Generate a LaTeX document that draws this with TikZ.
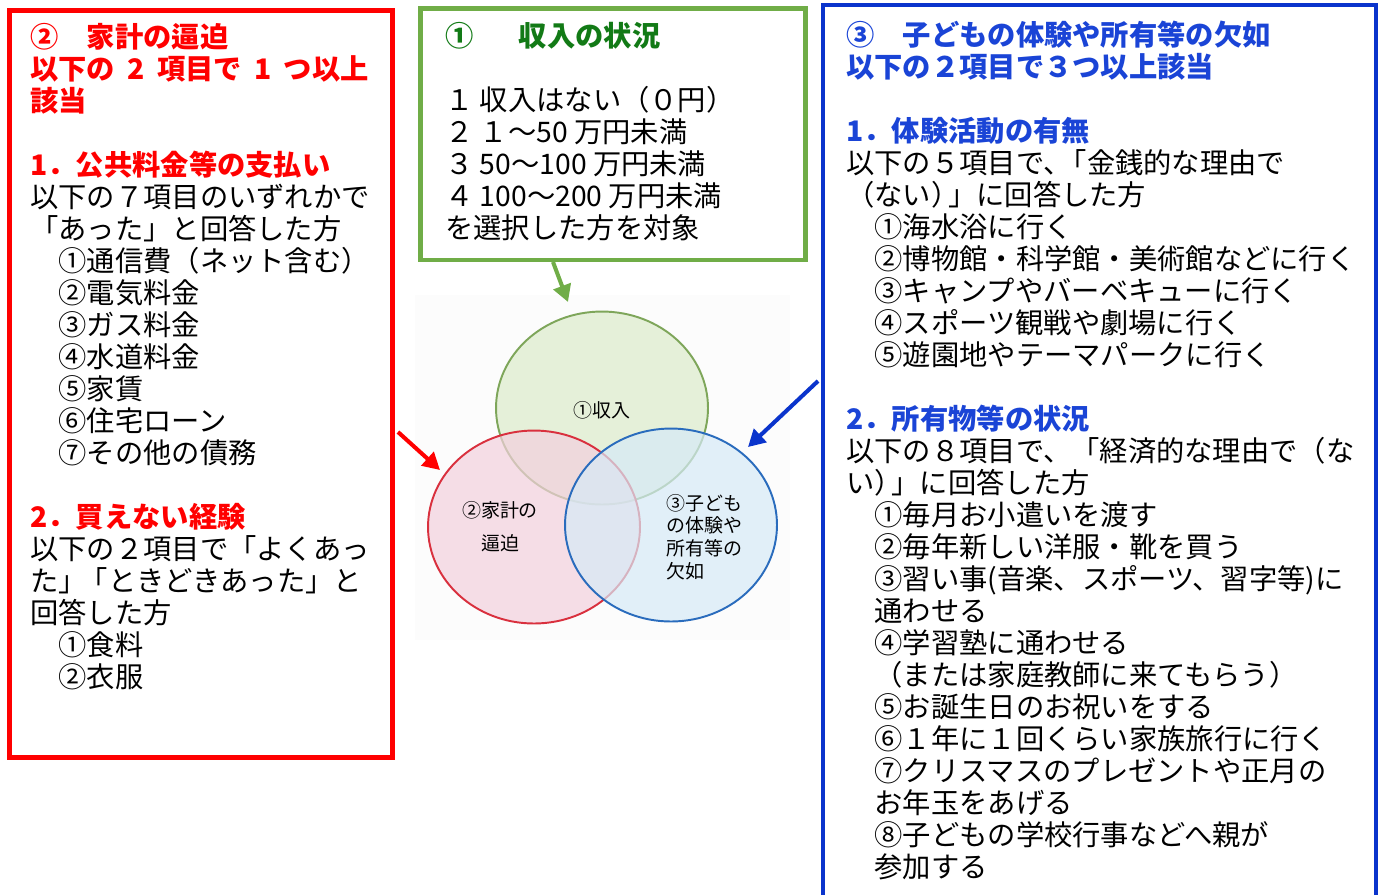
\documentclass[tikz,border=0pt]{standalone}
\usepackage{fontspec}
\usetikzlibrary{arrows.meta,shapes.geometric}
\newfontfamily\jpfont{Noto Sans CJK JP}

\definecolor{boxred}{HTML}{FF0000}
\definecolor{boxgreen}{HTML}{70AD47}
\definecolor{boxblue}{HTML}{0A34CC}
\definecolor{titlegreen}{HTML}{127A16}
\definecolor{titleblue}{HTML}{1A44D6}
\definecolor{venngreen}{HTML}{7EA65A}
\definecolor{vennred}{HTML}{D9303E}
\definecolor{vennblue}{HTML}{2A6CBD}
\definecolor{fillgreen}{HTML}{DCEBCB}
\definecolor{fillred}{HTML}{F3D0DE}
\definecolor{fillblue}{HTML}{D6EAF7}

\tikzset{
  listtext/.style={anchor=north west, inner sep=0pt, align=left,
    font=\jpfont\fontsize{16.1pt}{18.2pt}\selectfont},
  venntext/.style={inner sep=0pt, font=\jpfont\fontsize{10.8pt}{13pt}\selectfont},
  vennset/.style={ellipse, minimum width=4.24cm, minimum height=3.86cm,
    line width=1.1pt, fill opacity=0.7},
  setarrow/.style={line width=2.3pt, -{Triangle[length=0.34cm,width=0.36cm]}},
}

\begin{document}
\begin{tikzpicture}[x=0.02cm, y=-0.02cm]
    \useasboundingbox (0,0) rectangle (1381,894);

    % Step 1: the three frames
    \draw[boxred, line width=2.8pt] (9.5,10.5) rectangle (392.5,757.5);
    \draw[boxgreen, line width=2.8pt] (420.5,8.5) rectangle (805.5,260);
    \draw[boxblue, line width=2.3pt] (823,5) rectangle (1376,910); % bottom edge falls outside the page

    % Step 2: household budget list (red frame)
    \node[listtext] (budgetlist) at (30,23) {%
        {\color{boxred}\bfseries ②　家計の逼迫}\\
        {\color{boxred}\bfseries 以下の\hspace{0.42em}2\hspace{0.45em}項目で\hspace{0.45em}1\hspace{0.42em}つ以上}\\
        {\color{boxred}\bfseries 該当}\\
        \mbox{}\\
        {\color{boxred}\bfseries 1．公共料金等の支払い}\\
        以下の７項目のいずれかで\\
        「あった」と回答した方\\
        　①通信費（ネット含む）\\
        　②電気料金\\
        　③ガス料金\\
        　④水道料金\\
        　⑤家賃\\
        　⑥住宅ローン\\
        　⑦その他の債務\\
        \mbox{}\\
        {\color{boxred}\bfseries 2．買えない経験}\\
        以下の２項目で「よくあっ\\
        た」\kern-0.25em「ときどきあった」と\\
        回答した方\\
        　①食料\\
        　②衣服};

    % Step 3: income list (green frame)
    \node[listtext] (incomelist) at (445,22) {%
        {\color{titlegreen}\bfseries ①\hspace{1.6em}収入の状況}\\
        \mbox{}\\
        １ 収入はない（０円）\\
        ２ １～50 万円未満\\
        ３ 50～100 万円未満\\
        ４ 100～200 万円未満\\
        を選択した方を対象};

    % Step 4: child experience list (blue frame)
    \node[listtext] (childlist) at (846,21) {%
        {\color{titleblue}\bfseries ③　子どもの体験や所有等の欠如}\\
        {\color{titleblue}\bfseries 以下の２項目で３つ以上該当}\\
        \mbox{}\\
        {\color{titleblue}\bfseries 1．体験活動の有無}\\
        以下の５項目で、\kern-0.45em「金銭的な理由で\\
        （ない）\kern-0.4em」に回答した方\\
        　①海水浴に行く\\
        　②博物館・科学館・美術館などに行く\\
        　③キャンプやバーベキューに行く\\
        　④スポーツ観戦や劇場に行く\\
        　⑤遊園地やテーマパークに行く\\
        \mbox{}\\
        {\color{titleblue}\bfseries 2．所有物等の状況}\\
        以下の８項目で、「経済的な理由で（な\\
        い）\kern-0.4em」に回答した方\\
        　①毎月お小遣いを渡す\\
        　②毎年新しい洋服・靴を買う\\
        　③習い事(音楽、スポーツ、習字等)に\\
        　通わせる\\
        　④学習塾に通わせる\\
        　（または家庭教師に来てもらう）\\
        　⑤お誕生日のお祝いをする\\
        　⑥１年に１回くらい家族旅行に行く\\
        　⑦クリスマスのプレゼントや正月の\\
        　お年玉をあげる\\
        　⑧子どもの学校行事などへ親が\\
        　参加する};

    % Step 5: Venn diagram
    \fill[black!1] (415,295) rectangle (790,640);
    \node[vennset, draw=venngreen, fill=fillgreen] (income) at (602,408) {};
    \node[vennset, draw=vennred, fill=fillred] (budget) at (534,527) {};
    \node[vennset, draw=vennblue, fill=fillblue] (child) at (671,525) {};

    \node[venntext] (incomelabel) at (602,410) {①収入};
    \node[venntext, align=center] (budgetlabel) at (500,527) {②家計の\\[5.7pt]逼迫};
    \node[venntext, align=left, anchor=west] (childlabel) at (666,537)
        {③子ども\\の体験や\\所有等の\\欠如};

    % Step 6: arrows from the frames to the sets
    \coordinate (greenfrom) at (553,262);
    \coordinate (greento) at (568,302);
    \coordinate (redfrom) at (398,432);
    \coordinate (redto) at (440,470);
    \coordinate (bluefrom) at (818,381);
    \coordinate (blueto) at (748,447);
    \draw[setarrow, boxgreen] (greenfrom) -- (greento);
    \draw[setarrow, boxred] (redfrom) -- (redto);
    \draw[setarrow, boxblue] (bluefrom) -- (blueto);

\end{tikzpicture}
\end{document}
